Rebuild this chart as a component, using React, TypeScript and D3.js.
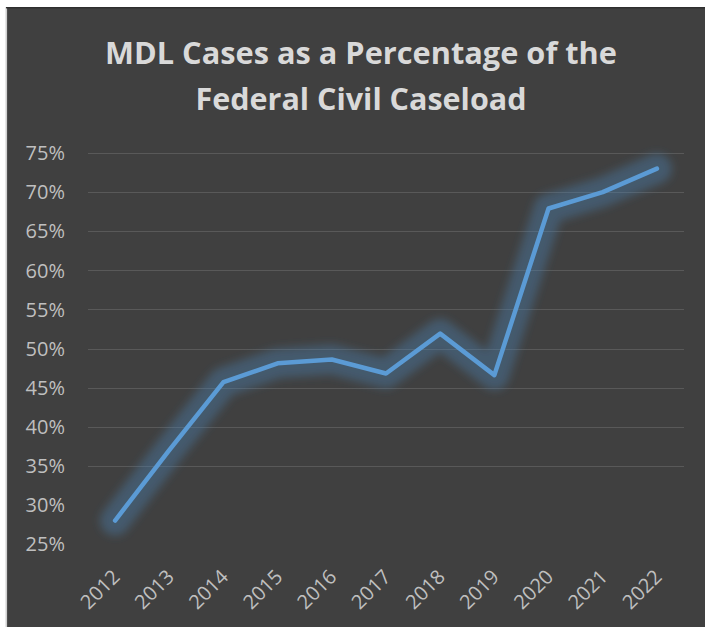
import React from "react";
import * as d3 from "d3";

const years = ["2012", "2013", "2014", "2015", "2016", "2017", "2018", "2019", "2020", "2021", "2022"];
const pctValues = [28, 37, 45.7, 48.1, 48.6, 46.8, 51.9, 46.6, 67.9, 70.0, 73.0];
const yTicks = [25, 30, 35, 40, 45, 50, 55, 60, 65, 70, 75];
const gridTicks = [35, 40, 45, 50, 55, 60, 65, 70, 75];
const titleLines = ["MDL Cases as a Percentage of the", "Federal Civil Caseload"];

export default function App() {
  const W = 705;
  const H = 627;
  const plotLeft = 88;
  const plotRight = 684;
  const yTop = 153;
  const yBottom = 544;

  const x = d3.scaleBand<string>().domain(years).range([plotLeft, plotRight]).padding(0);
  const y = d3.scaleLinear().domain([25, 75]).range([yBottom, yTop]);
  const cx = (d: string) => (x(d) as number) + x.bandwidth() / 2;

  const data = years.map((yr, i) => ({ yr, v: pctValues[i] }));
  const line = d3
    .line<{ yr: string; v: number }>()
    .x((d) => cx(d.yr))
    .y((d) => y(d.v));
  const path = line(data) || "";

  const labelFont = "'Open Sans', 'DejaVu Sans', sans-serif";

  return (
    <div style={{ position: "absolute", left: 0, top: 0, width: W, height: H, background: "#fff" }}>
      <svg width={W} height={H} style={{ display: "block" }}>
        <defs>
          <filter id="glow" x="-20%" y="-20%" width="140%" height="140%">
            <feGaussianBlur stdDeviation="4" />
          </filter>
        </defs>
        <rect x={6} y={7} width={W - 6} height={H - 7} fill="#404040" />
        <rect x={5.5} y={7} width={1.6} height={H - 7} fill="#d0d0d0" />
        <rect x={6} y={7} width={W - 6} height={1.4} fill="#2f2f2f" />

        {titleLines.map((t, i) => (
          <text
            key={t}
            x={361}
            y={64 + i * 46}
            textAnchor="middle"
            fill="#d9d9d9"
            fontFamily={labelFont}
            fontWeight={700}
            fontSize={31}
            textLength={i === 0 ? 512 : 331}
            lengthAdjust="spacingAndGlyphs"
          >
            {t}
          </text>
        ))}

        {gridTicks.map((t) => (
          <line
            key={"g" + t}
            x1={plotLeft}
            x2={plotRight}
            y1={Math.round(y(t)) + 0.5}
            y2={Math.round(y(t)) + 0.5}
            stroke="#595959"
            strokeWidth={1}
          />
        ))}

        {yTicks.map((t) => (
          <text
            key={"y" + t}
            x={65}
            y={y(t)}
            dy="0.36em"
            textAnchor="end"
            fill="#bfbfbf"
            fontFamily={labelFont}
            fontSize={20}
          >
            {t + "%"}
          </text>
        ))}

        {years.map((yr) => (
          <text
            key={"x" + yr}
            transform={`translate(${cx(yr) + 1},${573}) rotate(-45)`}
            dy="0.36em"
            textAnchor="end"
            fill="#bfbfbf"
            fontFamily={labelFont}
            fontSize={20}
          >
            {yr}
          </text>
        ))}

        <path
          d={path}
          fill="none"
          stroke="#4a7fb0"
          strokeOpacity={0.4}
          strokeWidth={30}
          strokeLinejoin="round"
          strokeLinecap="round"
          filter="url(#glow)"
        />
        <path
          d={path}
          fill="none"
          stroke="#5b9bd5"
          strokeWidth={4.5}
          strokeLinejoin="round"
          strokeLinecap="round"
        />
      </svg>
    </div>
  );
}
